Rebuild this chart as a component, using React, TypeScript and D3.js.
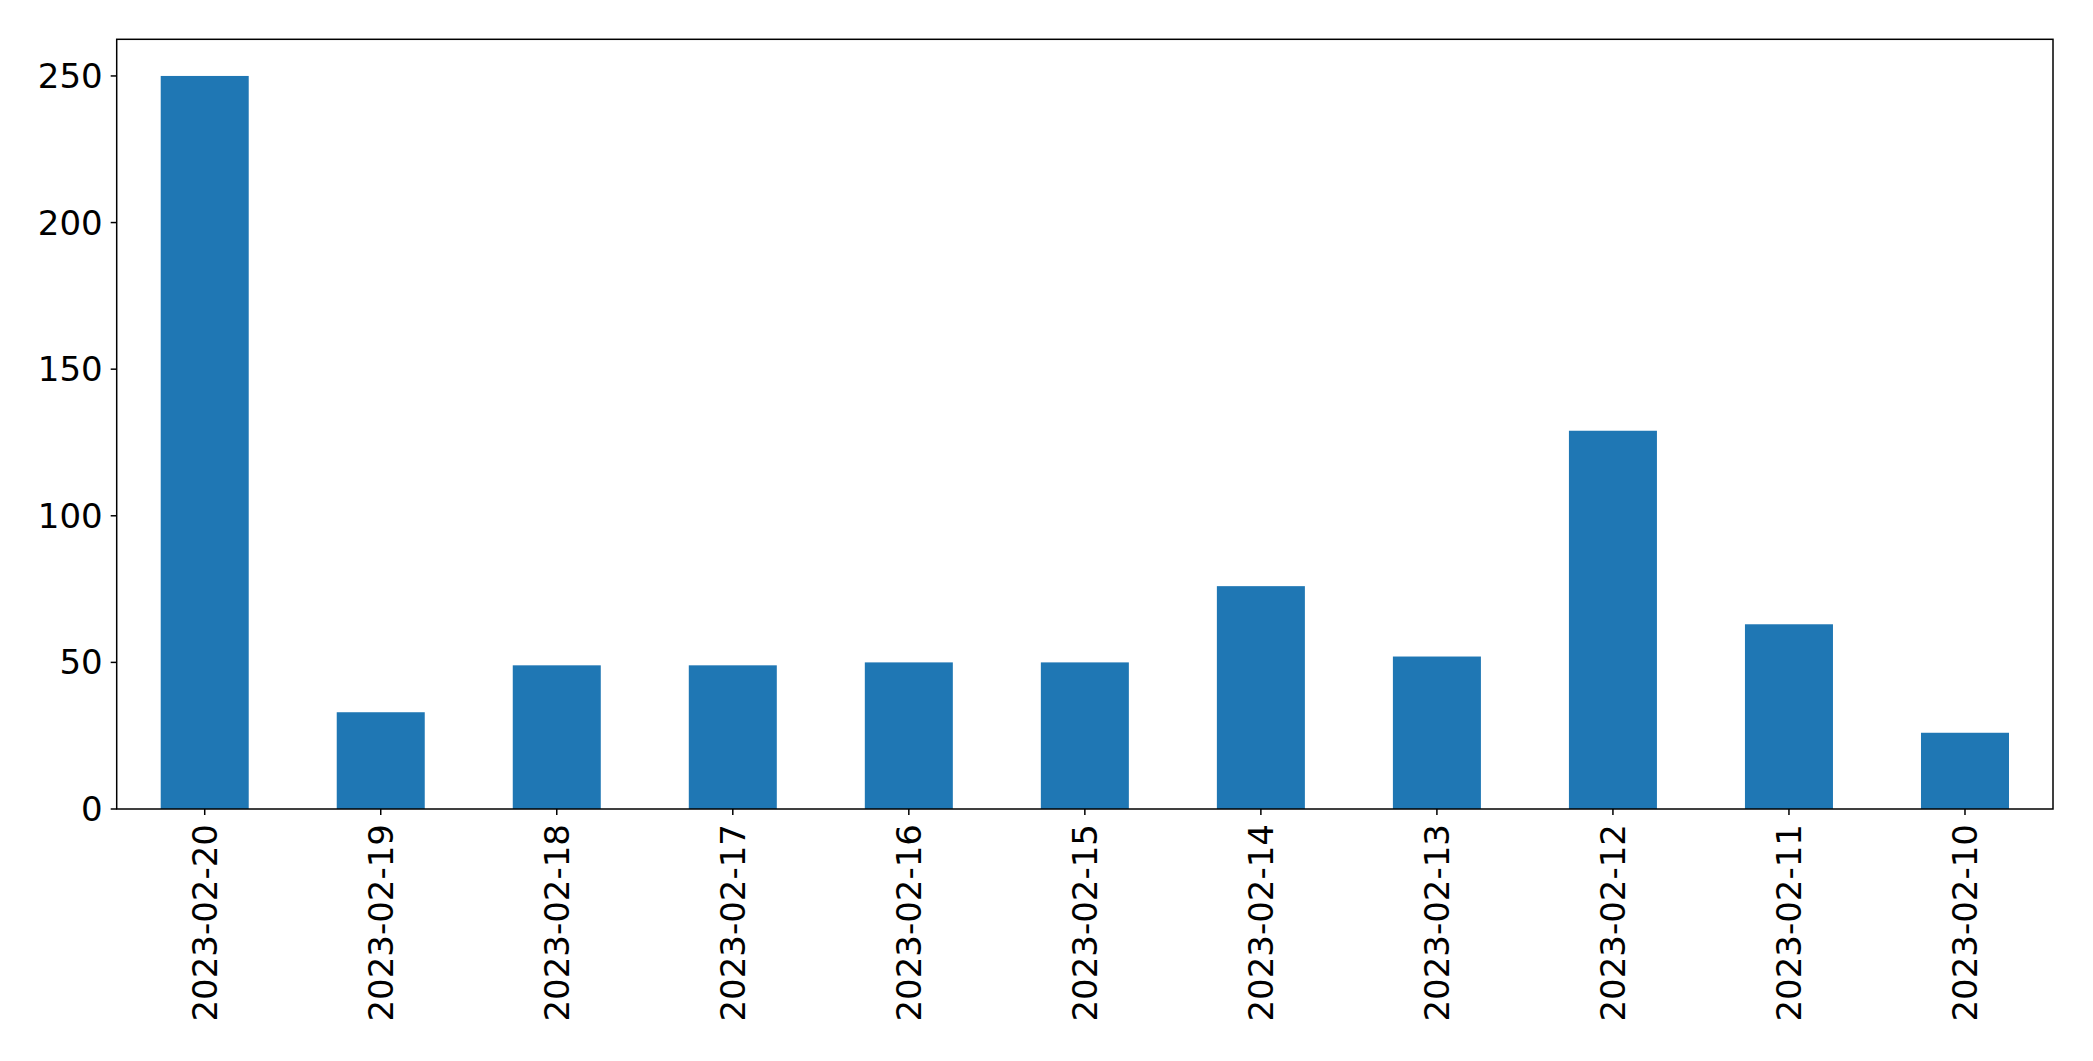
import * as d3 from "d3";

const dates = [
  "2023-02-20",
  "2023-02-19",
  "2023-02-18",
  "2023-02-17",
  "2023-02-16",
  "2023-02-15",
  "2023-02-14",
  "2023-02-13",
  "2023-02-12",
  "2023-02-11",
  "2023-02-10",
];
const counts = [250, 33, 49, 49, 50, 50, 76, 52, 129, 63, 26];
const yTicks = [0, 50, 100, 150, 200, 250];

const width = 2093;
const height = 1061;
const marginLeft = 116.7;
const marginRight = 40;
const marginTop = 39.3;
const plotBottom = 809;

export default function App() {
  const x = d3
    .scaleBand()
    .domain(dates)
    .range([marginLeft, width - marginRight])
    .paddingInner(0.5)
    .paddingOuter(0.25);

  const yMax = d3.max(counts)! * 1.05;
  const y = d3.scaleLinear().domain([0, yMax]).range([plotBottom, marginTop]);

  const font = "'DejaVu Sans', sans-serif";
  const tickLen = 6;

  return (
    <svg
      width={width}
      height={height}
      style={{ position: "absolute", top: 0, left: 0, background: "#fff" }}
    >
      <rect x={0} y={0} width={width} height={height} fill="#fff" />
      {/* bars */}
      <g fill="#1f77b4">
        {dates.map((d, i) => (
          <rect
            key={d}
            x={x(d)}
            y={y(counts[i])}
            width={x.bandwidth()}
            height={plotBottom - y(counts[i])}
          />
        ))}
      </g>

      {/* frame */}
      <rect
        x={marginLeft}
        y={marginTop}
        width={width - marginRight - marginLeft}
        height={plotBottom - marginTop}
        fill="none"
        stroke="#000"
        strokeWidth={1.5}
      />

      {/* y axis */}
      <g fontFamily={font} fontSize={34} fill="#000">
        {yTicks.map((t) => (
          <g key={t}>
            <line
              x1={marginLeft - tickLen}
              x2={marginLeft}
              y1={y(t)}
              y2={y(t)}
              stroke="#000"
              strokeWidth={1.5}
            />
            <text
              x={marginLeft - tickLen - 8}
              y={y(t)}
              textAnchor="end"
              dominantBaseline="central"
            >
              {t}
            </text>
          </g>
        ))}
      </g>

      {/* x axis */}
      <g fontFamily={font} fontSize={34} fill="#000">
        {dates.map((d) => {
          const cx = x(d)! + x.bandwidth() / 2;
          return (
            <g key={d}>
              <line
                x1={cx}
                x2={cx}
                y1={plotBottom}
                y2={plotBottom + tickLen}
                stroke="#000"
                strokeWidth={1.5}
              />
              <text
                transform={`translate(${cx}, ${plotBottom + tickLen + 9}) rotate(-90)`}
                textAnchor="end"
                dominantBaseline="central"
              >
                {d}
              </text>
            </g>
          );
        })}
      </g>
    </svg>
  );
}
